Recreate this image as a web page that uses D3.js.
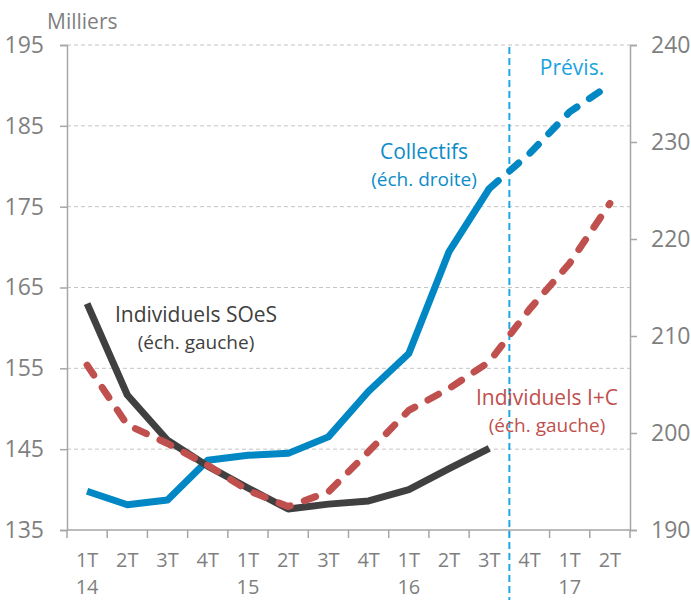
<!DOCTYPE html>
<html><head><meta charset="utf-8">
<script src="https://cdn.jsdelivr.net/npm/d3@7"></script>
<style>body{margin:0;background:#fff}svg{display:block}text{font-family:"Open Sans",sans-serif}</style>
</head><body>
<svg id="c" width="691" height="600"></svg>
<script>
const quarters = ["1T","2T","3T","4T","1T","2T","3T","4T","1T","2T","3T","4T","1T","2T"];
const years = ["14","","","","15","","","","16","","","","17",""];
const soes = [163.0,151.7,146.1,142.9,140.2,137.6,138.2,138.6,140.0,142.6,145.1,null,null,null];
const indivIC = [155.4,148.0,145.7,143.0,139.9,137.9,139.7,144.7,149.8,152.5,155.8,162.3,168.0,175.4];
const collectifs = [194.0,192.6,193.1,197.2,197.7,197.9,199.6,204.3,208.2,218.7,225.2,null,null,null];
const collectifsPrev = [null,null,null,null,null,null,null,null,null,null,225.2,228.8,233.1,235.9];
const leftTicks = [135,145,155,165,175,185,195];
const rightTicks = [190,200,210,220,230,240];
const forecastStart = 11;

const L=67,R=630,T=45,B=530;
const svg=d3.select("#c");
const x=d3.scaleBand().domain(d3.range(quarters.length)).range([L,R]).paddingInner(0).paddingOuter(0);
const yL=d3.scaleLinear().domain([135,195]).range([B,T]);
const yR=d3.scaleLinear().domain([190,240]).range([B,T]);
const cx=i=>x(i)+x.bandwidth()/2;
const grey="#7f7f7f", axisC="#a6a6a6";

// gridlines
svg.append("g").selectAll("line").data(leftTicks.filter(d=>d>135)).join("line")
 .attr("x1",L).attr("x2",R).attr("y1",d=>yL(d)).attr("y2",d=>yL(d))
 .attr("stroke","#c4c4c4").attr("stroke-width",1).attr("stroke-dasharray","4,3");

// left axis
const gl=svg.append("g").attr("transform",`translate(${L},0)`)
 .call(d3.axisLeft(yL).tickValues(leftTicks).tickSize(7).tickPadding(16));
// right axis
const gr=svg.append("g").attr("transform",`translate(${R},0)`)
 .call(d3.axisRight(yR).tickValues(rightTicks).tickSize(7).tickPadding(14));
[gl,gr].forEach(g=>{g.select(".domain").attr("stroke",axisC).attr("stroke-width",1.5);
 g.selectAll(".tick line").attr("stroke",axisC).attr("stroke-width",1.5);
 g.selectAll("text").attr("fill",grey).attr("font-size",23).attr("font-family","Open Sans");});

// bottom axis
const gb=svg.append("g");
gb.append("line").attr("x1",L).attr("x2",R).attr("y1",B).attr("y2",B).attr("stroke",axisC).attr("stroke-width",1.5);
const bounds=d3.range(quarters.length+1).map(i=>i<quarters.length?x(i):x(i-1)+x.bandwidth());
gb.selectAll("line.t").data(bounds).join("line").attr("class","t")
 .attr("x1",d=>d).attr("x2",d=>d).attr("y1",B).attr("y2",B+8).attr("stroke",axisC).attr("stroke-width",1.5);
gb.selectAll("text.q").data(quarters).join("text").attr("class","q")
 .attr("x",(d,i)=>cx(i)).attr("y",567).attr("text-anchor","middle").attr("fill",grey).attr("font-size",20).text(d=>d);
gb.selectAll("text.y").data(years).join("text").attr("class","y")
 .attr("x",(d,i)=>cx(i)).attr("y",594).attr("text-anchor","middle").attr("fill",grey).attr("font-size",20).text(d=>d);

svg.append("text").attr("x",47).attr("y",29).attr("fill",grey).attr("font-size",21).text("Milliers");

// forecast separator
svg.append("line").attr("x1",x(forecastStart)).attr("x2",x(forecastStart)).attr("y1",T+2).attr("y2",600)
 .attr("stroke","#1fa7e1").attr("stroke-width",2).attr("stroke-dasharray","7,4");

function draw(vals,y,color,dash){
 const line=d3.line().defined(d=>d!=null).x((d,i)=>cx(i)).y(d=>y(d));
 const p=svg.append("path").datum(vals).attr("d",line).attr("fill","none").attr("stroke",color)
  .attr("stroke-width",7).attr("stroke-linejoin","round");
 if(dash) p.attr("stroke-dasharray",dash).attr("stroke-linecap","round");
}
draw(collectifs,yR,"#0087c4",null);
draw(collectifsPrev,yR,"#0087c4","12,15");
draw(soes,yL,"#404040",null);
draw(indivIC,yL,"#c0504d","12,15");

function label(lines,xc,y0,color){
 lines.forEach((t,i)=>svg.append("text").attr("x",xc).attr("y",y0+i*27).attr("text-anchor","middle")
  .attr("fill",color).attr("font-size",i==0?21:19).text(t));
}
label(["Collectifs","(éch. droite)"],424,159,"#0c8cc8");
label(["Individuels SOeS","(éch. gauche)"],196,322,"#404040");
label(["Individuels I+C","(éch. gauche)"],547,405,"#c0504d");
svg.append("text").attr("x",572).attr("y",75).attr("text-anchor","middle").attr("fill","#1aa3e0").attr("font-size",21).text("Prévis.");
</script>
</body></html>
